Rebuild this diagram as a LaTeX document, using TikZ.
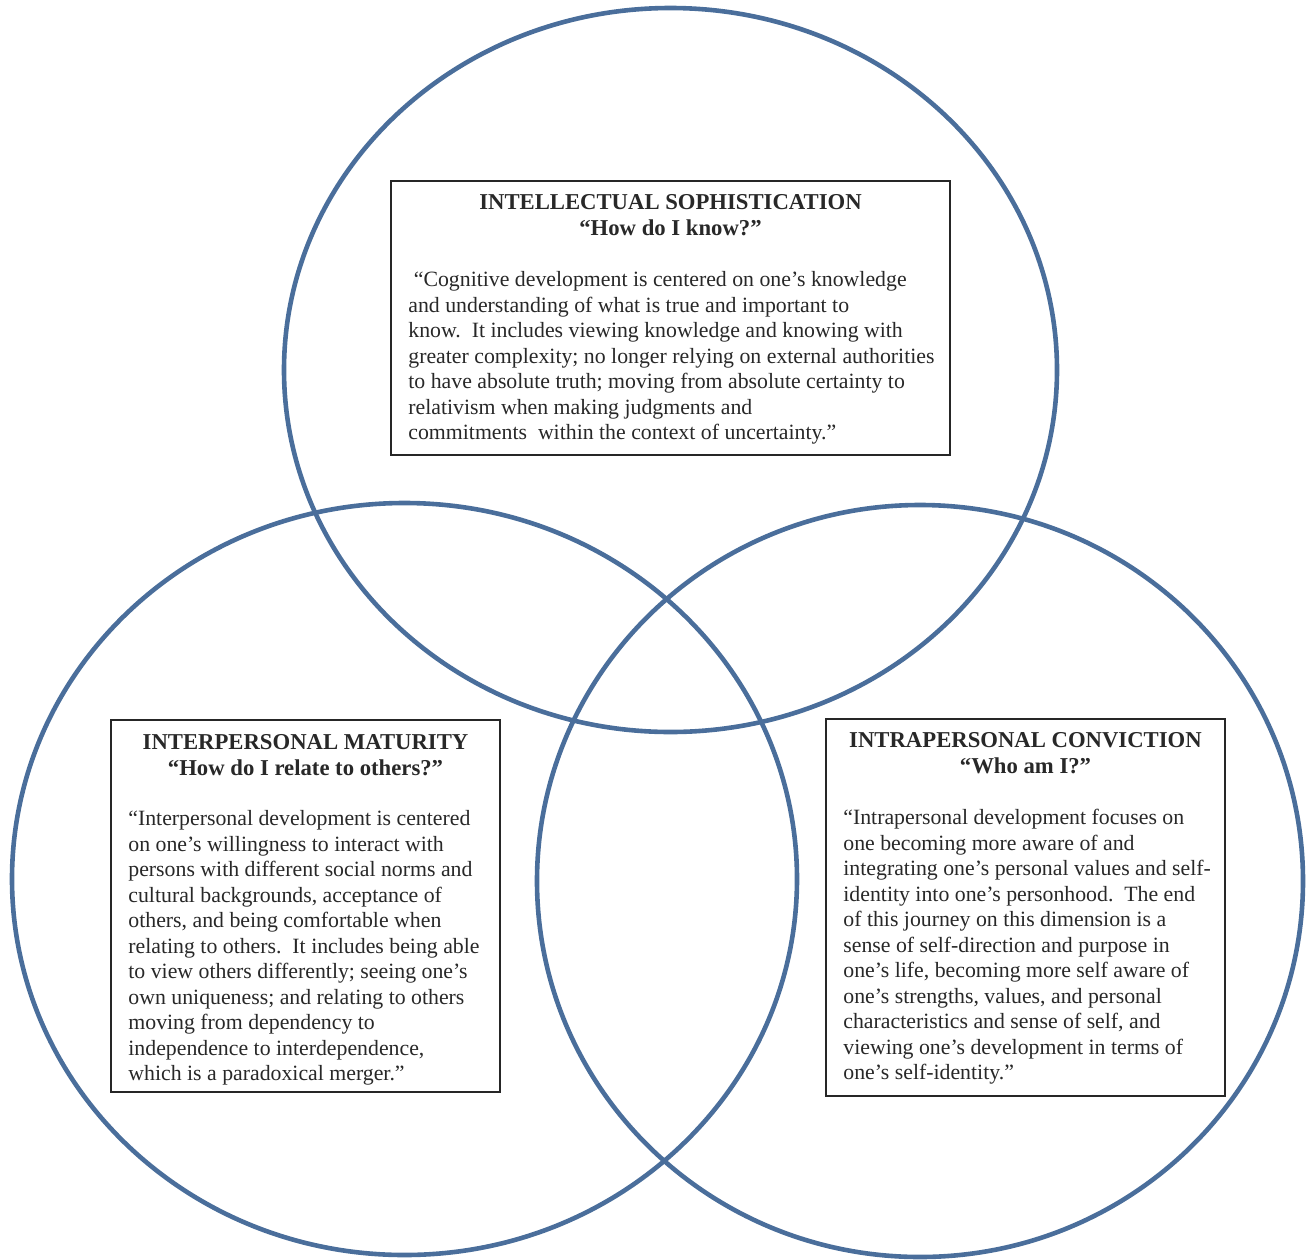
\documentclass[tikz,border=0pt]{standalone}
\usepackage{fontspec}
\setmainfont{Liberation Serif}
\definecolor{ringblue}{RGB}{74,110,155}
\definecolor{inkgray}{RGB}{40,40,40}

\begin{document}
\begin{tikzpicture}[
    x=0.5pt, y=-0.5pt,
    ring/.style={
        draw=ringblue,
        line width=2.3pt
    },
    box/.style={
        rectangle,
        draw=black!85,
        line width=0.6pt,
        fill=white,
        inner sep=0pt
    },
    head/.style={
        align=center,
        anchor=north,
        inner sep=0pt,
        text=inkgray,
        font=\fontsize{11.35}{13}\selectfont\bfseries
    },
    body/.style={
        align=left,
        anchor=north west,
        inner sep=0pt,
        text=inkgray,
        font=\fontsize{10.9}{12.75}\selectfont
    }
]
\useasboundingbox (0,0) rectangle (1307,1259);

% The three circles
\draw[ring] (670.5,370) ellipse [x radius=193.25pt, y radius=181pt];
\draw[ring] (404.5,879) ellipse [x radius=196.25pt, y radius=188pt];
\draw[ring] (920,881)   ellipse [x radius=191.5pt,  y radius=188pt];

% Top box
\node[box, minimum width=279.5pt, minimum height=137pt] (intel) at (670.5,318) {};
\node[head] (intel-head) at (670.5,194) {INTELLECTUAL SOPHISTICATION\\“How do I know?”};
\node[body] (intel-text) at (408,271) {\ “Cognitive development is centered on one’s knowledge\\
and understanding of what is true and important to\\
know.\ \ It includes viewing knowledge and knowing with\\
greater complexity; no longer relying on external authorities\\
to have absolute truth; moving from absolute certainty to\\
relativism when making judgments and\\
commitments\ \ within the context of uncertainty.”};

% Left box
\node[box, minimum width=194.5pt, minimum height=186pt] (inter) at (305.5,906) {};
\node[head] (inter-head) at (305.5,734.5) {INTERPERSONAL MATURITY\\“How do I relate to others?”};
\node[body] (inter-text) at (128,810) {“Interpersonal development is centered\\
on one’s willingness to interact with\\
persons with different social norms and\\
cultural backgrounds, acceptance of\\
others, and being comfortable when\\
relating to others.\ \ It includes being able\\
to view others differently; seeing one’s\\
own uniqueness; and relating to others\\
moving from dependency to\\
independence to interdependence,\\
which is a paradoxical merger.”};

% Right box
\node[box, minimum width=199.5pt, minimum height=188.5pt] (intra) at (1025.5,907.5) {};
\node[head] (intra-head) at (1025.5,732.5) {INTRAPERSONAL CONVICTION\\“Who am I?”};
\node[body] (intra-text) at (843,809) {“Intrapersonal development focuses on\\
one becoming more aware of and\\
integrating one’s personal values and self-\\
identity into one’s personhood.\ \ The end\\
of this journey on this dimension is a\\
sense of self-direction and purpose in\\
one’s life, becoming more self aware of\\
one’s strengths, values, and personal\\
characteristics and sense of self, and\\
viewing one’s development in terms of\\
one’s self-identity.”};

\end{tikzpicture}
\end{document}
